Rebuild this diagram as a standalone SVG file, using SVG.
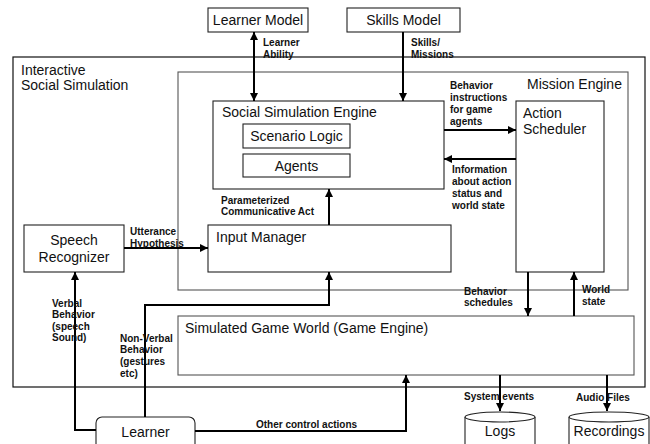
<svg xmlns="http://www.w3.org/2000/svg" width="650" height="444" viewBox="0 0 650 444">
<style>
.box{fill:#fff;stroke:#222;stroke-width:1.1}
.grey{fill:none;stroke:#555;stroke-width:1.1}
.t{font-family:"Liberation Sans",Arial,sans-serif;font-size:14px;fill:#111}
.l{font-family:"Liberation Sans",Arial,sans-serif;font-size:10px;font-weight:bold;fill:#111}
.c{fill:none;stroke:#000;stroke-width:2}
</style>
<defs>
<marker id="ah" markerUnits="userSpaceOnUse" markerWidth="9" markerHeight="8" refX="8" refY="4" orient="auto-start-reverse">
<path d="M0,0 L8,4 L0,8 Z" fill="#000"/>
</marker>
</defs>
<rect width="650" height="444" fill="#fff"/>
<g id="interactive-social-simulation">
<rect x="13" y="57" width="632" height="330" fill="none" stroke="#111" stroke-width="1.2"/>
<text class="t" x="21" y="75">Interactive</text>
<text class="t" x="21" y="90">Social Simulation</text>
</g>
<g id="mission-engine">
<rect class="grey" x="178" y="72" width="450" height="218"/>
<text class="t" x="527" y="89">Mission Engine</text>
</g>
<g id="learner-model">
<rect class="box" x="208" y="8" width="100" height="24"/>
<text class="t" x="258" y="25" text-anchor="middle">Learner Model</text>
</g>
<g id="skills-model">
<rect class="box" x="347" y="8" width="113" height="24"/>
<text class="t" x="403.5" y="25" text-anchor="middle">Skills Model</text>
</g>
<g id="social-simulation-engine">
<rect class="box" x="213" y="101" width="231" height="88"/>
<text class="t" x="222" y="117">Social Simulation Engine</text>
</g>
<g id="scenario-logic">
<rect class="box" x="243" y="124" width="107" height="24"/>
<text class="t" x="296.5" y="141" text-anchor="middle">Scenario Logic</text>
</g>
<g id="agents">
<rect class="box" x="243" y="154" width="107" height="23"/>
<text class="t" x="296.5" y="170.5" text-anchor="middle">Agents</text>
</g>
<g id="action-scheduler">
<rect class="box" x="516" y="101" width="88" height="171"/>
<text class="t" x="523" y="118">Action</text>
<text class="t" x="523" y="134">Scheduler</text>
</g>
<g id="input-manager">
<rect class="box" x="208" y="225" width="243" height="47"/>
<text class="t" x="216" y="242">Input Manager</text>
</g>
<g id="speech-recognizer">
<rect class="box" x="24" y="225" width="100" height="47"/>
<text class="t" x="74" y="245" text-anchor="middle">Speech</text>
<text class="t" x="74" y="262" text-anchor="middle">Recognizer</text>
</g>
<g id="simulated-game-world">
<rect x="178" y="316" width="456" height="59" fill="none" stroke="#555" stroke-width="1.1"/>
<text class="t" x="185" y="333">Simulated Game World (Game Engine)</text>
</g>
<g id="learner">
<rect class="box" x="96" y="417" width="99" height="40" rx="6"/>
<text class="t" x="145.5" y="437" text-anchor="middle">Learner</text>
</g>
<g id="logs">
<path d="M465,417 L465,450 L535,450 L535,417" fill="#fff" stroke="#222" stroke-width="1.1"/>
<ellipse cx="500" cy="417" rx="35" ry="5" fill="#fff" stroke="#222" stroke-width="1.1"/>
<text class="t" x="500" y="436" text-anchor="middle">Logs</text>
</g>
<g id="recordings">
<path d="M569,417 L569,450 L649,450 L649,417" fill="#fff" stroke="#222" stroke-width="1.1"/>
<ellipse cx="609" cy="417" rx="40" ry="5" fill="#fff" stroke="#222" stroke-width="1.1"/>
<text class="t" x="609" y="436" text-anchor="middle">Recordings</text>
</g>
<g id="connectors">
<line class="c" x1="254" y1="32" x2="254" y2="101" marker-start="url(#ah)" marker-end="url(#ah)"/>
<line class="c" x1="403" y1="32" x2="403" y2="101" marker-end="url(#ah)"/>
<line class="c" x1="444" y1="130" x2="516" y2="130" marker-end="url(#ah)"/>
<line class="c" x1="516" y1="159" x2="444" y2="159" marker-end="url(#ah)"/>
<line class="c" x1="329" y1="225" x2="329" y2="189" marker-end="url(#ah)"/>
<line class="c" x1="124" y1="248" x2="208" y2="248" marker-end="url(#ah)"/>
<polyline class="c" points="96,430 75,430 75,272" marker-end="url(#ah)"/>
<polyline class="c" points="145,417 145,305 329,305 329,272" marker-end="url(#ah)"/>
<polyline class="c" points="195,431 406,431 406,375" marker-end="url(#ah)"/>
<line class="c" x1="528" y1="272" x2="528" y2="316" marker-end="url(#ah)"/>
<line class="c" x1="574" y1="316" x2="574" y2="272" marker-end="url(#ah)"/>
<line class="c" x1="500" y1="375" x2="500" y2="411" marker-end="url(#ah)"/>
<line class="c" x1="607" y1="375" x2="607" y2="411" marker-end="url(#ah)"/>
</g>
<g id="labels">
<text class="l" x="263" y="46">Learner</text>
<text class="l" x="263" y="58">Ability</text>
<text class="l" x="411" y="46">Skills/</text>
<text class="l" x="411" y="58">Missions</text>
<text class="l" x="450" y="89">Behavior</text>
<text class="l" x="450" y="101">instructions</text>
<text class="l" x="450" y="113">for game</text>
<text class="l" x="450" y="125">agents</text>
<text class="l" x="452" y="173">Information</text>
<text class="l" x="452" y="185">about action</text>
<text class="l" x="452" y="197">status and</text>
<text class="l" x="452" y="209">world state</text>
<text class="l" x="221" y="203.5">Parameterized</text>
<text class="l" x="221" y="215">Communicative Act</text>
<text class="l" x="130" y="235">Utterance</text>
<text class="l" x="130" y="246.5">Hypothesis</text>
<text class="l" x="52" y="306.5">Verbal</text>
<text class="l" x="52" y="318">Behavior</text>
<text class="l" x="52" y="329.5">(speech</text>
<text class="l" x="52" y="341">Sound)</text>
<text class="l" x="120" y="341.5">Non-Verbal</text>
<text class="l" x="120" y="353">Behavior</text>
<text class="l" x="120" y="365">(gestures</text>
<text class="l" x="120" y="376.5">etc)</text>
<text class="l" x="464" y="294.5">Behavior</text>
<text class="l" x="464" y="306">schedules</text>
<text class="l" x="582" y="293">World</text>
<text class="l" x="582" y="305">state</text>
<text class="l" x="464" y="399.5">System events</text>
<text class="l" x="576" y="401">Audio Files</text>
<text class="l" x="256" y="427.5">Other control actions</text>
</g>
</svg>
